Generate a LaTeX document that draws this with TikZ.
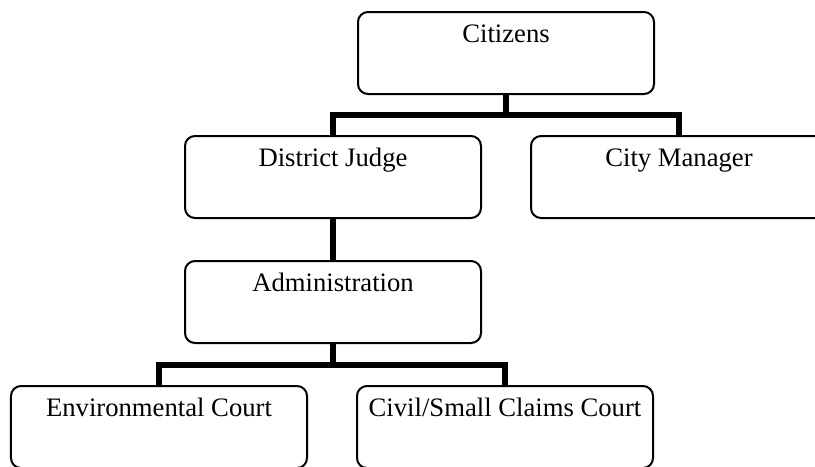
\documentclass[tikz,border=0pt]{standalone}
\usepackage{fontspec}
\setmainfont{Liberation Serif}
\usepackage{tikz}
\usetikzlibrary{positioning, calc}
\usepackage{xcolor}
\definecolor{orgline}{RGB}{0,0,0}

\begin{document}
\begin{tikzpicture}[x=0.45pt, y=-0.45pt,
  orgbox/.style={draw=orgline, line width=0.9pt, rounded corners=4.5pt,
    minimum width=133.2pt, inner sep=0pt, text height=13.5pt, text depth=23.4pt,
    font=\fontsize{12}{14}\selectfont},
  orglink/.style={draw=orgline, line width=2.5pt, line join=miter}]
\useasboundingbox (0,0) rectangle (815,466);
\clip (0,0) rectangle (815,466);
% boxes
\node[orgbox] (cit) at (506,53)  {Citizens};
\node[orgbox] (dj)  at (333,177) {District Judge};
\node[orgbox] (cm)  at (679,177) {City Manager};
\node[orgbox] (adm) at (333,302) {Administration};
\node[orgbox] (env) at (159,427) {Environmental Court};
\node[orgbox] (civ) at (505,427) {Civil/Small Claims Court};
% junctions
\coordinate (j1) at (506,115);
\coordinate (j2) at (333,365);
% links
\draw[orglink] (cit.south) -- (j1);
\draw[orglink] (dj.north) |- (j1) -| (cm.north);
\draw[orglink] (dj.south) -- (adm.north);
\draw[orglink] (adm.south) -- (j2);
\draw[orglink] (env.north) |- (j2) -| (civ.north);
\end{tikzpicture}
\end{document}
